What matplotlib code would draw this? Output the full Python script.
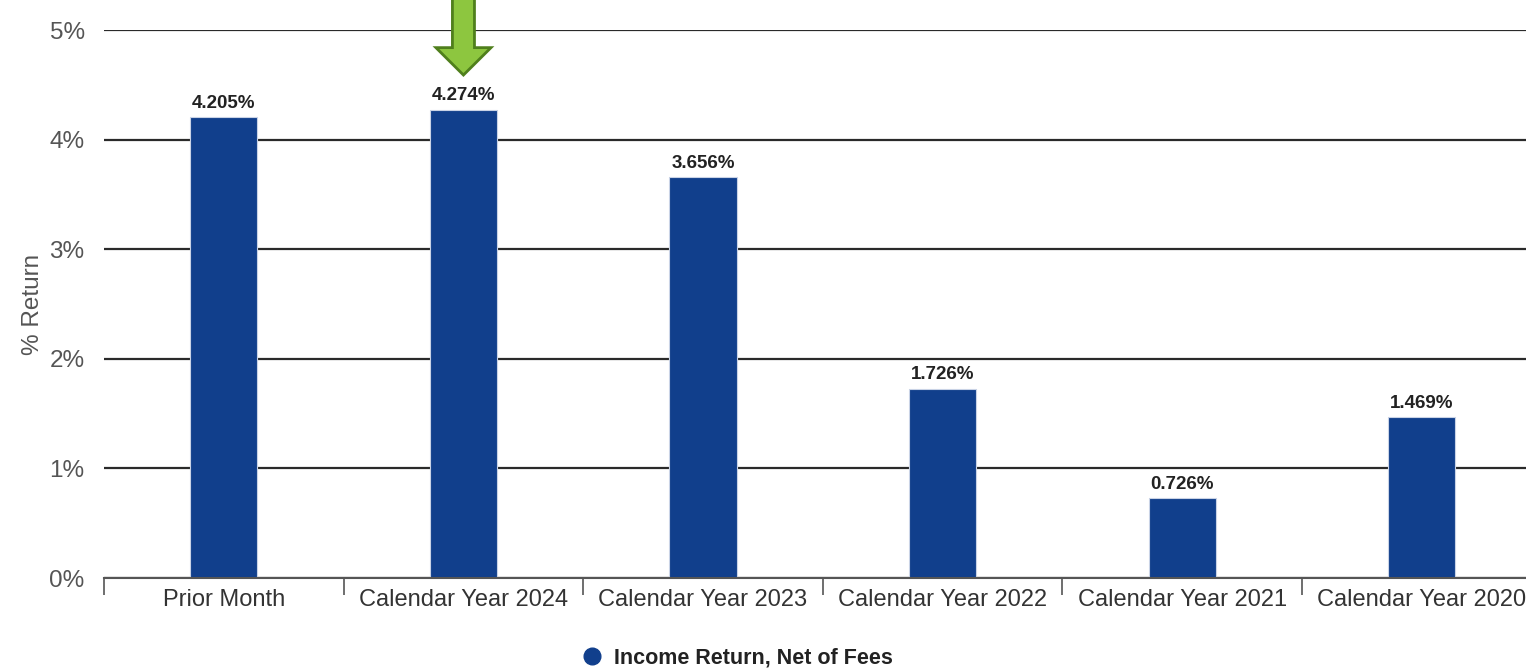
import matplotlib.pyplot as plt
from matplotlib.lines import Line2D
from matplotlib.patches import FancyArrow

categories = ["Prior Month", "Calendar Year 2024", "Calendar Year 2023",
              "Calendar Year 2022", "Calendar Year 2021", "Calendar Year 2020"]
income_return = [4.205, 4.274, 3.656, 1.726, 0.726, 1.469]
value_labels = ["4.205%", "4.274%", "3.656%", "1.726%", "0.726%", "1.469%"]
y_ticks = [0, 1, 2, 3, 4, 5]
highlight = "Calendar Year 2024"

bar_color = "#113f8c"
plt.rcParams["font.family"] = ["Liberation Sans", "DejaVu Sans"]

fig = plt.figure(figsize=(15.26, 6.69), dpi=100)
ax = fig.add_axes([0.0682, 0.136, 0.9318, 0.819])

x = list(range(len(categories)))
ax.bar(x, income_return, width=0.28, color=bar_color, zorder=3,
       edgecolor="#c9d3e6", linewidth=0.8)

for xi, v, lab in zip(x, income_return, value_labels):
    ax.text(xi, v + 0.05, lab, ha="center", va="bottom", fontsize=13.5,
            fontweight="bold", color="#222222", zorder=4)

ax.set_yticks(y_ticks)
ax.set_yticklabels([f"{t}%" for t in y_ticks], fontsize=17.5, color="#555555")
ax.set_ylabel("% Return", fontsize=17.5, color="#555555", labelpad=4)

ax.set_xticks(x)
ax.set_xticklabels(categories, fontsize=17, color="#333333")
ax.set_xticks([i - 0.5 for i in range(len(categories) + 1)], minor=True)
ax.tick_params(axis="x", which="major", length=0, pad=8)
ax.tick_params(axis="x", which="minor", length=12, color="#555555", width=1.2)
ax.tick_params(axis="y", length=0, pad=14)

# limits after the ticks, otherwise the minor ticks widen the view
ax.set_xlim(-0.5, 5.435)
ax.set_ylim(0, 5)

ax.grid(axis="y", color="#2a2a2a", linewidth=1.6, zorder=1)
for side in ["top", "right", "left"]:
    ax.spines[side].set_visible(False)
ax.spines["bottom"].set_color("#555555")
ax.spines["bottom"].set_linewidth(1.5)
ax.spines["bottom"].set_zorder(5)

# green arrow pointing at the current calendar year
hx = categories.index(highlight)
arrow = FancyArrow(hx, 5.32, 0, -0.73, width=0.092, head_width=0.23,
                   head_length=0.25, length_includes_head=True,
                   facecolor="#8dc63f", edgecolor="#4f7f1c", linewidth=2,
                   clip_on=False, zorder=6)
ax.add_patch(arrow)

handle = Line2D([], [], marker="o", linestyle="none", markersize=12,
                markerfacecolor=bar_color, markeredgecolor=bar_color)
fig.legend([handle], ["Income Return, Net of Fees"], loc="center",
           bbox_to_anchor=(0.4795, 0.016), frameon=False, handletextpad=0.0,
           prop={"size": 15.5, "weight": "bold"}, labelcolor="#222222")

fig.savefig("out.png", dpi=100)
